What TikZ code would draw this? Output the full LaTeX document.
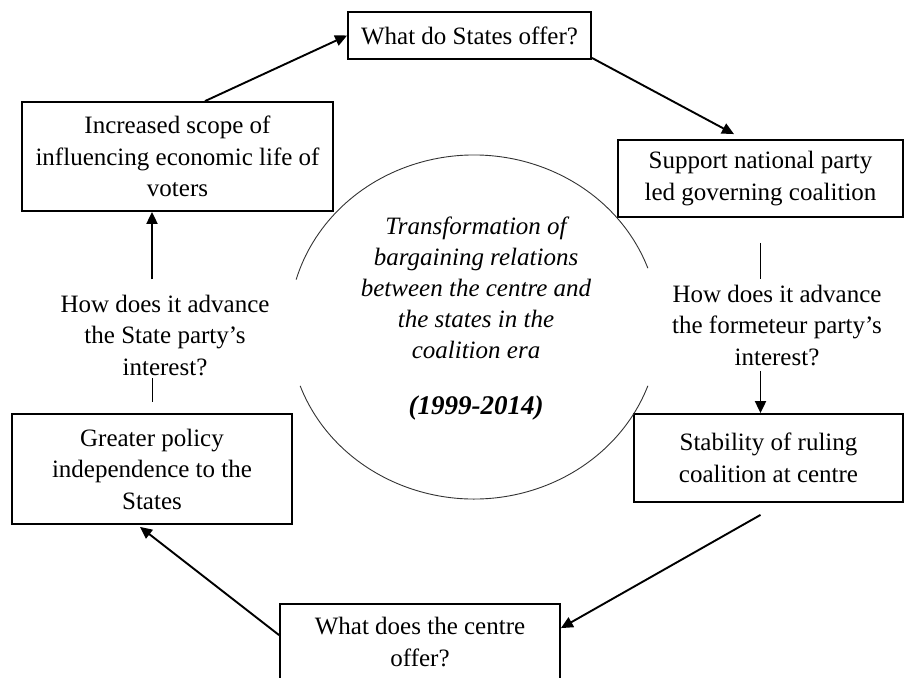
\documentclass[tikz,border=0pt]{standalone}
\usepackage{fontspec}
\setmainfont{Liberation Serif}
\usetikzlibrary{positioning, arrows.meta}

\tikzset{
  box/.style  = {draw, line width=0.9pt, align=center, inner sep=0pt},
  qtext/.style = {align=center, inner sep=0pt},
  link/.style = {line width=0.95pt},
  tick/.style = {line width=0.5pt}
}

\begin{document}
\begin{tikzpicture}[x=0.5pt, y=0.5pt, >={Triangle[length=6pt, width=5.5pt]},
    every node/.style={font=\fontsize{12.5}{15.75}\selectfont}]
  \useasboundingbox (0,0) rectangle (904,677);

  % boxes round the circle
  \node[box, minimum width=121.5pt, minimum height=23.5pt] (sto) at (469.5,641.5) {What do States offer?};
  \node[box, minimum width=155.5pt, minimum height=54.5pt] (isc) at (177.5,520.5)
    {Increased scope of\\influencing economic life of\\voters};
  \node[box, minimum width=142.5pt, minimum height=38.5pt] (snp) at (760.5,498.5)
    {Support national party\\led governing coalition};
  \node[box, minimum width=134.5pt, minimum height=44pt] (src) at (768.5,219)
    {Stability of ruling\\coalition at centre};
  \node[box, minimum width=140pt, minimum height=55pt] (gpi) at (152,208)
    {Greater policy\\independence to the\\States};
  \node[box, minimum width=140pt, minimum height=38pt] (cto) at (420,35)
    {What does the centre\\offer?};

  % questions
  \node[qtext] (lq) at (165,342) {How does it advance\\the State party’s\\interest?};
  \node[qtext] (rq) at (777,352) {How does it advance\\the formeteur party’s\\interest?};

  % centre
  \draw[line width=0.45pt, black!80] (474,350) ++(20:92.5pt and 86pt)
    arc[start angle=20, end angle=164, x radius=92.5pt, y radius=86pt];
  \draw[line width=0.45pt, black!80] (474,350) ++(200:92.5pt and 86pt)
    arc[start angle=200, end angle=340, x radius=92.5pt, y radius=86pt];
  \node[qtext, font=\fontsize{12.5}{15.5}\selectfont\itshape] (circ) at (476,389)
    {Transformation of\\bargaining relations\\between the centre and\\the states in the\\coalition era};
  \node[qtext, font=\fontsize{13.5}{15.5}\selectfont\bfseries\itshape] (yr) at (476,269) {(1999-2014)};

  % connectors
  \draw[link, ->] ([xshift=13.75pt]isc.north) -- (sto.west);
  \draw[link, ->] ([yshift=1pt]sto.south east) -- ([xshift=-13.25pt, yshift=2.5pt]snp.north);
  \draw[tick] ([yshift=-12.5pt]snp.south) -- ([yshift=2.5pt]snp.south |- rq.north);
  \draw[link, ->] ([yshift=-2.5pt]snp.south |- rq.south) -- (snp.south |- src.north);
  \draw[link, ->] ([yshift=-6pt]snp.south |- src.south) -- ([yshift=-12.5pt]cto.north east);
  \draw[link, ->] ([yshift=-16pt]cto.north west) -- ([xshift=-6pt, yshift=-1pt]gpi.south);
  \draw[tick] ([yshift=-1pt]gpi.north |- lq.south) -- ([yshift=5.5pt]gpi.north);
  \draw[link, ->] ([yshift=7.5pt]gpi.north |- lq.north) -- (gpi.north |- isc.south);
\end{tikzpicture}
\end{document}
